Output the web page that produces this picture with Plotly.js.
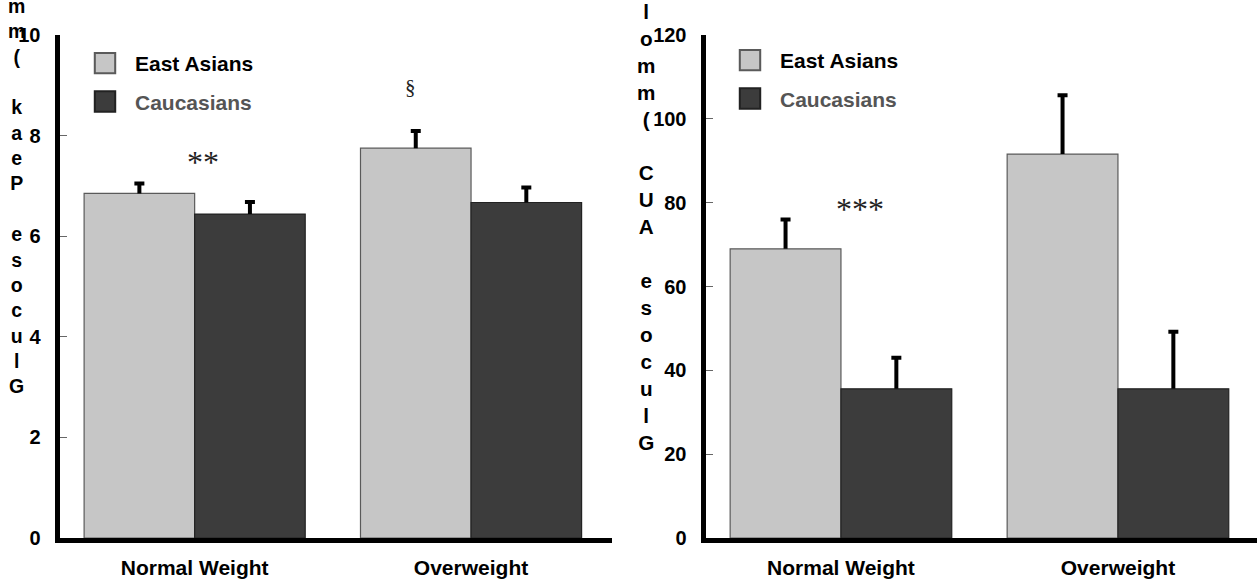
<!DOCTYPE html>
<html>
<head>
<meta charset="utf-8">
<script src="https://cdn.plot.ly/plotly-3.0.1.min.js"></script>
<style>
  html, body { margin: 0; padding: 0; background: #ffffff; }
  #chart { width: 1257px; height: 580px; }
</style>
</head>
<body>
<div id="chart"></div>
<script>
// Weight groups on the x axis of both panels
const groups = ['Normal Weight', 'Overweight'];
const seriesNames = ['East Asians', 'Caucasians'];

// Panel A: peak glucose (mmol/L), mean and upper error
const peakEastAsian = [6.85, 7.75];
const peakEastAsianErr = [0.20, 0.34];
const peakCaucasian = [6.44, 6.67];
const peakCaucasianErr = [0.24, 0.30];

// Panel B: glucose area under the curve, mean and upper error
const aucEastAsian = [69.0, 91.6];
const aucEastAsianErr = [7.0, 14.0];
const aucCaucasian = [35.6, 35.6];
const aucCaucasianErr = [7.4, 13.6];

const peakTicks = [0, 2, 4, 6, 8, 10];
const aucTicks = [0, 20, 40, 60, 80, 100, 120];

// Significance marks: [group, offset, value, label]
const peakMarks = [['Normal Weight', 0.03, 7.47, '**'], ['Overweight', -0.22, 8.97, '§']];
const aucMarks = [['Normal Weight', 0.07, 78.4, '***']];

const peakTitle = 'Glucose Peak (mm';
const aucTitle = 'Glucose AUC (mmol';

const SANS = '"Liberation Sans", Arial, sans-serif';
const SERIF = '"Liberation Serif", "Times New Roman", serif';
const LIGHT = '#c6c6c6';
const DARK = '#3c3c3c';
const W = 1257, H = 580;

// Vertical, character-per-line title, read from bottom to top
function stackedTitle(s) {
  return s.split('').reverse().map(c => (c === ' ' ? '\u00a0' : c)).join('<br>');
}

function barTrace(name, y, err, color, lineColor, xa, ya, legend, group) {
  return {
    type: 'bar',
    name: name,
    x: groups,
    y: y,
    xaxis: xa,
    yaxis: ya,
    legend: legend,
    legendgroup: group,
    marker: { color: color, line: { color: lineColor, width: 1.2 } },
    error_y: {
      type: 'data', symmetric: false, array: err, arrayminus: err.map(() => 0),
      color: '#000000', thickness: 4, width: 5
    },
    hoverinfo: 'skip'
  };
}

const data = [
  barTrace(seriesNames[0], peakEastAsian, peakEastAsianErr, LIGHT, '#5a5a5a', 'x', 'y', 'legend', 'a1'),
  barTrace('<span style="color:#555555">' + seriesNames[1] + '</span>', peakCaucasian, peakCaucasianErr, DARK, '#222222', 'x', 'y', 'legend', 'b1'),
  barTrace(seriesNames[0], aucEastAsian, aucEastAsianErr, LIGHT, '#5a5a5a', 'x2', 'y2', 'legend2', 'a2'),
  barTrace('<span style="color:#555555">' + seriesNames[1] + '</span>', aucCaucasian, aucCaucasianErr, DARK, '#222222', 'x2', 'y2', 'legend2', 'b2')
];

const px = v => v / W;
const py = v => 1 - v / H;

function xAxis(domain, range, anchor) {
  return {
    domain: domain, range: range, anchor: anchor, type: 'category',
    showline: true, linecolor: '#000000', linewidth: 4.5,
    ticks: '', showgrid: false, zeroline: false,
    tickfont: { family: SANS, size: 21, color: '#000000', weight: 'bold' },
    ticklabelstandoff: 7, fixedrange: true
  };
}

function yAxis(range, ticks, anchor) {
  return {
    domain: [1 - 538 / H, 1 - 35 / H], range: range, anchor: anchor,
    tickvals: ticks, ticktext: ticks.map(String),
    showline: true, linecolor: '#000000', linewidth: 5,
    ticks: 'inside', ticklen: 7, tickwidth: 1, tickcolor: '#666666',
    showgrid: false, zeroline: false,
    tickfont: { family: SANS, size: 20, color: '#000000', weight: 'bold' },
    ticklabelstandoff: 10, fixedrange: true
  };
}

function legendBox(x, y) {
  return {
    x: px(x), y: py(y), xanchor: 'left', yanchor: 'top',
    bgcolor: 'rgba(0,0,0,0)', borderwidth: 0,
    itemwidth: 50, tracegroupgap: 8, traceorder: 'grouped',
    font: { family: SANS, size: 21, color: '#000000', weight: 'bold' },
    itemclick: false, itemdoubleclick: false
  };
}

function markAnnotations(marks, xa, ya) {
  return marks.map(m => ({
    xref: xa, yref: ya,
    x: groups.indexOf(m[0]) + m[1], y: m[2],
    text: m[3], showarrow: false,
    font: { family: SERIF, size: m[3] === '§' ? 21 : 32, color: '#222222' }
  }));
}

const layout = {
  width: W, height: H,
  margin: { l: 0, r: 0, t: 0, b: 0, pad: 0 },
  paper_bgcolor: '#ffffff', plot_bgcolor: '#ffffff',
  barmode: 'group', bargap: 0.2, bargroupgap: 0,
  xaxis: xAxis([px(59.5), px(612)], [-0.489, 1.51], 'y'),
  yaxis: yAxis([0, 10], peakTicks, 'x'),
  xaxis2: xAxis([px(705.5), 1], [-0.489, 1.502], 'y2'),
  yaxis2: yAxis([0, 120], aucTicks, 'x2'),
  legend: legendBox(75, 43),
  legend2: legendBox(720, 40),
  annotations: [
    ...markAnnotations(peakMarks, 'x', 'y'),
    ...markAnnotations(aucMarks, 'x2', 'y2'),
    {
      xref: 'paper', yref: 'paper', x: px(16), y: py(399), xanchor: 'center', yanchor: 'bottom',
      text: stackedTitle(peakTitle), showarrow: false, align: 'center',
      font: { family: SANS, size: 19.5, color: '#000000', weight: 'bold' }
    },
    {
      xref: 'paper', yref: 'paper', x: px(646), y: py(456), xanchor: 'center', yanchor: 'bottom',
      text: stackedTitle(aucTitle), showarrow: false, align: 'center',
      font: { family: SANS, size: 20.7, color: '#000000', weight: 'bold' }
    }
  ]
};

Plotly.newPlot('chart', data, layout, { staticPlot: true, displayModeBar: false }).then(() => {
  // enlarge the legend swatches
  document.querySelectorAll('.legendpoints path').forEach(p => {
    const t = p.getAttribute('transform') || '';
    p.setAttribute('transform', t + ' scale(1.7)');
  });
  // keep only the upper whisker and its cap
  document.querySelectorAll('.errorbar path').forEach(p => {
    const d = p.getAttribute('d') || '';
    const i = d.indexOf('V');
    if (i < 0) return;
    const j = d.indexOf('m', i);
    if (j > 0) p.setAttribute('d', d.slice(0, j));
  });
});
</script>
</body>
</html>
